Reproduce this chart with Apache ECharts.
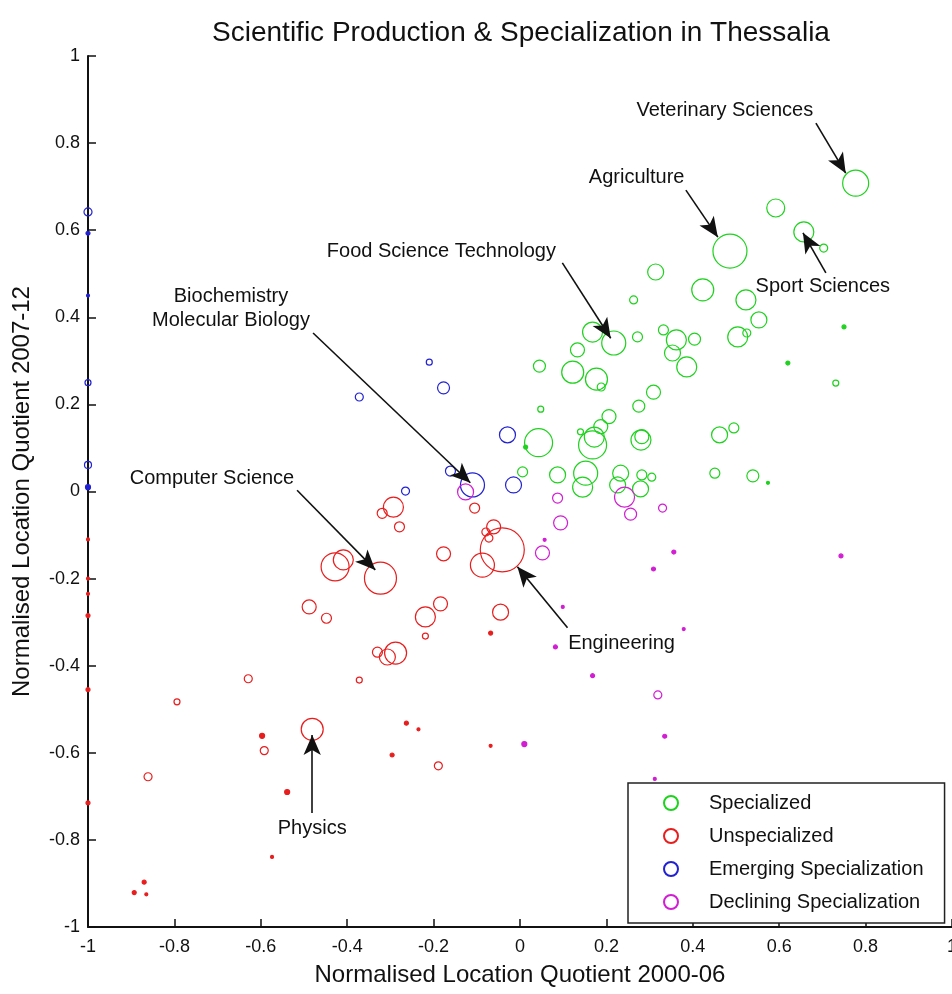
<!DOCTYPE html>
<html><head><meta charset="utf-8">
<script src="https://cdn.jsdelivr.net/npm/echarts@6/dist/echarts.min.js"></script>
<style>html,body{margin:0;padding:0;background:#fff}#c{width:952px;height:994px}</style>
</head><body><div id="c"></div>
<script>
// ---- data: [x (LQ 2000-06), y (LQ 2007-12), bubble radius] ----
const seriesNames = ['Specialized', 'Unspecialized', 'Emerging Specialization', 'Declining Specialization'];

const specialized = [
  [0.777,0.708,13],[0.592,0.651,9],[0.486,0.552,17],[0.657,0.596,10],[0.703,0.559,4],
  [0.314,0.504,8],[0.423,0.463,11],[0.523,0.440,10],[0.553,0.394,8],[0.504,0.355,10],
  [0.525,0.364,4],[0.750,0.378,2],[0.263,0.440,4],[0.168,0.366,10],[0.217,0.341,12],
  [0.272,0.355,5],[0.332,0.371,5],[0.362,0.348,10],[0.404,0.350,6],[0.353,0.318,8],
  [0.386,0.286,10],[0.133,0.325,7],[0.122,0.274,11],[0.177,0.258,11],[0.188,0.240,4],
  [0.045,0.288,6],[0.309,0.228,7],[0.275,0.196,6],[0.048,0.189,3],[0.206,0.172,7],
  [0.187,0.149,7],[0.140,0.137,3],[0.043,0.112,14],[0.168,0.107,14],[0.172,0.125,10],
  [0.280,0.118,10],[0.282,0.126,7],[0.462,0.130,8],[0.495,0.146,5],[0.087,0.038,8],
  [0.152,0.042,12],[0.145,0.010,10],[0.233,0.042,8],[0.226,0.015,8],[0.282,0.038,5],
  [0.305,0.033,4],[0.279,0.006,8],[0.451,0.042,5],[0.539,0.036,6],[0.574,0.020,1.5],
  [0.006,0.045,5],[0.620,0.295,2],[0.731,0.249,3],[0.013,0.102,2]
];

const unspecialized = [
  [-0.293,-0.036,10],[-0.319,-0.050,5],[-0.279,-0.081,5],[-0.428,-0.173,14],[-0.409,-0.157,10],
  [-0.323,-0.199,16],[-0.488,-0.265,7],[-0.448,-0.291,5],[-0.219,-0.288,10],[-0.184,-0.258,7],
  [-0.219,-0.332,3],[-0.330,-0.369,5],[-0.307,-0.380,8],[-0.288,-0.371,11],[-0.372,-0.433,3],
  [-0.105,-0.038,5],[-0.061,-0.081,7],[-0.079,-0.093,4],[-0.072,-0.107,4],[-0.041,-0.134,22],
  [-0.087,-0.169,12],[-0.045,-0.277,8],[-0.068,-0.325,2],[-0.177,-0.143,7],[-0.629,-0.430,4],
  [-0.794,-0.483,3],[-0.481,-0.546,11],[-0.597,-0.561,2.5],[-0.592,-0.595,4],[-0.861,-0.655,4],
  [-0.539,-0.690,2.5],[-0.574,-0.839,1.5],[-0.870,-0.897,2],[-0.893,-0.921,2],[-0.865,-0.925,1.5],
  [-0.263,-0.532,2],[-0.235,-0.546,1.5],[-0.296,-0.605,2],[-0.189,-0.630,4],[-0.068,-0.584,1.5],
  [-1,-0.110,1.5],[-1,-0.200,1.5],[-1,-0.235,1.5],[-1,-0.285,2],[-1,-0.455,2],[-1,-0.715,2]
];

const emerging = [
  [-0.210,0.297,3],[-0.177,0.238,6],[-0.029,0.130,8],[-0.110,0.015,12],[-0.161,0.047,5],
  [-0.015,0.015,8],[-0.265,0.001,4],[-0.372,0.217,4],
  [-1,0.642,4],[-1,0.593,2],[-1,0.450,1.5],[-1,0.250,3],[-1,0.061,3.5],[-1,0.010,2.5]
];

const declining = [
  [0.087,-0.015,5],[0.094,-0.072,7],[0.242,-0.013,10],[0.256,-0.052,6],[0.330,-0.038,4],
  [0.052,-0.141,7],[0.057,-0.111,1.5],[0.356,-0.139,2],[0.309,-0.178,2],[0.099,-0.265,1.5],
  [0.379,-0.316,1.5],[0.082,-0.357,2],[0.743,-0.148,2],[0.168,-0.423,2],[0.319,-0.467,4],
  [0.335,-0.562,2],[0.010,-0.580,2.5],[0.312,-0.660,1.5],[-0.126,-0.001,8]
];

// axis ticks
const axisTicks = [-1,-0.8,-0.6,-0.4,-0.2,0,0.2,0.4,0.6,0.8,1];

// annotations: label, label anchor (data coords), arrow start, arrow end
const annoLabels = ['Veterinary Sciences','Agriculture','Sport Sciences','Food Science Technology',
  'Biochemistry\nMolecular Biology','Computer Science','Engineering','Physics'];
const annoText = [[0.474,0.874],[0.270,0.720],[0.701,0.470],[-0.182,0.552],[-0.669,0.421],[-0.713,0.031],[0.235,-0.348],[-0.481,-0.773]];
const arrowFrom = [[0.685,0.846],[0.384,0.692],[0.708,0.502],[0.098,0.525],[-0.479,0.364],[-0.516,0.003],[0.110,-0.313],[-0.481,-0.738]];
const arrowTo = [[0.754,0.731],[0.458,0.584],[0.655,0.594],[0.210,0.352],[-0.115,0.020],[-0.335,-0.180],[-0.006,-0.173],[-0.481,-0.559]];

// ---- chart ----
const FONT = '"Liberation Sans", Arial, Helvetica, sans-serif';
const colors = ['#1ed21e', '#e81e1e', '#2222d2', '#d21ed2'];
const groups = [specialized, unspecialized, emerging, declining];

const scatterSeries = groups.map((g, i) => ({
  name: seriesNames[i],
  type: 'scatter',
  // tiny markers render as solid dots (as in the original)
  data: g.map(v => v[2] <= 2.5 ? { value: v, itemStyle: { color: colors[i] } } : v),
  symbol: 'circle',
  symbolSize: v => v[2] * 2,
  itemStyle: { color: 'rgba(0,0,0,0)', borderColor: colors[i], borderWidth: 1.2, opacity: 1 },
  emphasis: { disabled: true },
  z: 3
}));

const annoSeries = {
  type: 'scatter',
  name: 'annotations',
  silent: true,
  symbolSize: 0,
  itemStyle: { opacity: 1 },
  data: annoText.map((p, i) => ({ value: p, name: annoLabels[i] })),
  label: {
    show: true, position: 'inside', formatter: p => p.name,
    fontSize: 20, fontFamily: FONT, color: '#111', lineHeight: 24, align: 'center'
  },
  markLine: {
    silent: true,
    symbol: ['none', 'arrow'],
    symbolSize: [13, 20],
    label: { show: false },
    lineStyle: { color: '#111', width: 1.6, type: 'solid', opacity: 1 },
    itemStyle: { color: '#111' },
    data: arrowFrom.map((f, i) => [{ coord: f }, { coord: arrowTo[i] }])
  },
  z: 5
};

const tickFmt = v => String(Math.round(v * 10) / 10);

const axisCommon = {
  type: 'value',
  min: axisTicks[0], max: axisTicks[axisTicks.length - 1],
  interval: Math.round((axisTicks[1] - axisTicks[0]) * 10) / 10,
  nameLocation: 'middle',
  nameTextStyle: { fontSize: 24, fontFamily: FONT, color: '#111' },
  axisLine: { show: true, onZero: false, lineStyle: { color: '#111', width: 2 } },
  axisTick: { show: true, inside: true, length: 8, lineStyle: { color: '#111', width: 1.5 } },
  axisLabel: { fontSize: 18, fontFamily: FONT, color: '#111', showMinLabel: true, showMaxLabel: true, formatter: tickFmt },
  splitLine: { show: false }
};

const chart = echarts.init(document.getElementById('c'), null, { renderer: 'canvas' });
chart.setOption({
  animation: false,
  backgroundColor: '#fff',
  title: {
    text: 'Scientific Production & Specialization in Thessalia',
    left: 516, top: 14, textAlign: 'center',
    textStyle: { fontSize: 28, fontWeight: 'normal', fontFamily: FONT, color: '#111' }
  },
  grid: { left: 88, right: 0, top: 56, bottom: 67, containLabel: false, outerBoundsMode: 'none' },
  xAxis: Object.assign({}, axisCommon, {
    name: 'Normalised Location Quotient 2000-06', nameGap: 36,
    axisLabel: Object.assign({}, axisCommon.axisLabel, { margin: 11 })
  }),
  yAxis: Object.assign({}, axisCommon, {
    name: 'Normalised Location Quotient 2007-12', nameGap: 54,
    axisLabel: Object.assign({}, axisCommon.axisLabel, { margin: 8 })
  }),
  legend: {
    data: seriesNames,
    orient: 'vertical',
    left: 628, top: 783,
    padding: [10, 21, 11, 35],
    itemGap: 13, itemWidth: 14, itemHeight: 14,
    borderColor: '#222', borderWidth: 1.5,
    backgroundColor: '#fff',
    selectedMode: false,
    textStyle: { fontSize: 20, fontFamily: FONT, color: '#111', padding: [0, 0, 0, 26] }
  },
  series: scatterSeries.concat([annoSeries])
});
</script>
</body></html>
